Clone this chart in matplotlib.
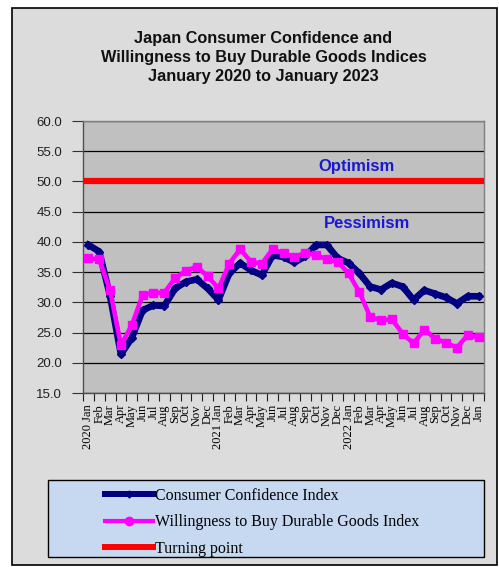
import matplotlib
matplotlib.use("Agg")
import matplotlib.pyplot as plt
from matplotlib.patches import Rectangle
from matplotlib.lines import Line2D

# Monthly index values, January 2020 to January 2023
months = ["2020 Jan", "Feb", "Mar", "Apr", "May", "Jun", "Jul", "Aug", "Sep", "Oct", "Nov", "Dec",
          "2021 Jan", "Feb", "Mar", "Apr", "May", "Jun", "Jul", "Aug", "Sep", "Oct", "Nov", "Dec",
          "2022 Jan", "Feb", "Mar", "Apr", "May", "Jun", "Jul", "Aug", "Sep", "Oct", "Nov", "Dec",
          "Jan"]

consumer_confidence = [39.5, 38.4, 31.0, 21.4, 24.1, 28.7, 29.5, 29.4, 32.3, 33.4, 33.8, 32.3,
                       30.4, 34.8, 36.5, 35.3, 34.5, 37.8, 37.5, 36.6, 37.6, 39.5, 39.5, 37.3,
                       36.5, 34.8, 32.6, 32.1, 33.2, 32.6, 30.4, 32.0, 31.4, 30.8, 29.8, 31.0,
                       31.0]

durable_goods = [37.3, 37.1, 32.0, 22.9, 26.2, 31.2, 31.6, 31.6, 34.0, 35.2, 35.9, 34.3,
                 32.3, 36.4, 38.8, 36.7, 36.4, 38.8, 38.1, 37.5, 38.2, 37.8, 37.1, 36.7,
                 34.8, 31.7, 27.6, 27.0, 27.2, 24.8, 23.2, 25.5, 24.0, 23.3, 22.5, 24.6,
                 24.2]

turning_point = 50.0

y_ticks = [15.0, 20.0, 25.0, 30.0, 35.0, 40.0, 45.0, 50.0, 55.0, 60.0]

W, H = 499, 567
fig = plt.figure(figsize=(W / 100, H / 100), dpi=100)
fig.patch.set_facecolor("white")

# outer chart frame (kept behind the axes)
fig.patches.append(Rectangle((12 / W, 1 - 565 / H), (497 - 12) / W, (565 - 8) / H,
                             transform=fig.transFigure, facecolor="#dcdcdc",
                             edgecolor="black", linewidth=1.2, zorder=-5))

ax = fig.add_axes([83 / W, 1 - 393 / H, (484 - 83) / W, (393 - 121) / H])
ax.set_facecolor("#c0c0c0")

x = list(range(len(months)))

ax.plot([-0.5, len(months) - 0.5], [turning_point, turning_point], color="#ff0000",
        linewidth=4.5, solid_capstyle="butt", zorder=3)
ax.plot(x, consumer_confidence, color="#000080", linewidth=4.8, marker="D",
        markersize=4, zorder=4)
ax.plot(x, durable_goods, color="#ff00ff", linewidth=3.3, marker="s",
        markersize=5.8, zorder=5)

ax.set_xlim(-0.5, len(months) - 0.5)
ax.set_ylim(15, 60)
ax.set_yticks(y_ticks)
ax.set_yticklabels([f"{v:.1f}" for v in y_ticks], fontsize=9.5,
                   family="Liberation Sans", color="#202020")
ax.yaxis.grid(True, color="black", linewidth=0.9)
ax.set_axisbelow(True)
ax.tick_params(axis="y", length=8, width=0.8, pad=7, color="#303030")

ax.set_xticks(x)
ax.set_xticklabels(months, rotation=90, fontsize=9, family="Liberation Serif",
                   va="top", ha="center")
ax.set_xticks([i - 0.5 for i in range(len(months) + 1)], minor=True)
ax.tick_params(axis="x", which="major", length=0, pad=8)
ax.tick_params(axis="x", which="minor", length=6, width=0.8, color="#202020")

for side in ["left", "bottom"]:
    ax.spines[side].set_color("#505050")
    ax.spines[side].set_linewidth(1.0)
for side in ["right", "top"]:
    ax.spines[side].set_color("#808080")
    ax.spines[side].set_linewidth(1.0)

ax.text(24.78, 52.4, "Optimism", color="#1a1ad0", fontsize=12, fontweight="bold",
        family="Liberation Sans", ha="center", va="center")
ax.text(25.67, 43.1, "Pessimism", color="#1a1ad0", fontsize=12, fontweight="bold",
        family="Liberation Sans", ha="center", va="center")

fig.text(263.5 / W, 1 - 57.5 / H,
         "Japan Consumer Confidence and\nWillingness to Buy Durable Goods Indices\n"
         "January 2020 to January 2023",
         ha="center", va="center", fontsize=11.7, fontweight="bold",
         family="Liberation Sans", linespacing=1.3, color="#111111")

# legend box
fig.patches.append(Rectangle((48 / W, 1 - 557 / H), (484 - 48) / W, (557 - 480) / H,
                             transform=fig.transFigure, facecolor="#c6d9f0",
                             edgecolor="black", linewidth=1.0, zorder=1))
handles = [
    Line2D([], [], color="#000080", linewidth=4.3, marker="D", markersize=3.5),
    Line2D([], [], color="#ff00ff", linewidth=3.0, marker="o", markersize=6),
    Line2D([], [], color="#ff0000", linewidth=4.3),
]
labels = ["Consumer Confidence Index", "Willingness to Buy Durable Goods Index",
          "Turning point"]
fig.legend(handles, labels, loc="upper left", bbox_to_anchor=(105 / W, 1 - 488 / H),
           frameon=False, prop={"family": "Liberation Serif", "size": 11.5},
           handlelength=3.0, handletextpad=0.1, labelspacing=0.65,
           borderpad=0, borderaxespad=0)

fig.savefig("out.png", dpi=100, facecolor=fig.get_facecolor())
